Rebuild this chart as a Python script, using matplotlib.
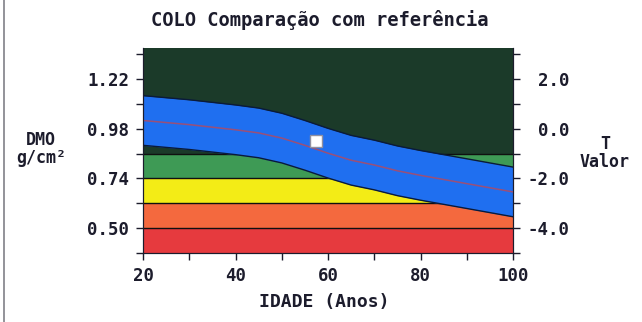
import matplotlib
matplotlib.use("Agg")
import matplotlib.pyplot as plt
import numpy as np

plt.rcParams["font.family"] = ["DejaVu Sans Mono"]
plt.rcParams["font.weight"] = "bold"
plt.rcParams["axes.unicode_minus"] = False

# reference curve for femoral neck BMD (mean, g/cm2) by age
ages = [20, 30, 40, 45, 50, 55, 60, 65, 70, 75, 80, 85, 90, 95, 100]
ref_mean = [1.020, 1.000, 0.975, 0.960, 0.935, 0.900, 0.862, 0.828, 0.805,
            0.777, 0.755, 0.735, 0.715, 0.695, 0.675]
ref_sd = 0.12          # one standard deviation, g/cm2
young_mean = 0.98      # T = 0 level

# T-score zone limits and colours, bottom to top
zone_limits = [-5.0, -4.0, -3.0, -2.0, -1.0, 3.25]
zone_colors = ["#e63a3e", "#f4693e", "#f3ec16", "#3e9a55", "#1b3a29"]

# patient measurement
pat_age = 57.5
pat_bmd = 0.922

left_ticks = [0.50, 0.74, 0.98, 1.22]
left_minor = [0.38, 0.62, 0.86, 1.10, 1.34]
t_ticks = [-4.0, -2.0, 0.0, 2.0]
t_minor = [-5.0, -3.0, -1.0, 1.0, 3.0]
age_ticks = [20, 40, 60, 80, 100]
age_minor = [30, 50, 70, 90]

ink = "#1c1c2c"


def to_bmd(t):
    return young_mean + t * ref_sd


fig = plt.figure(figsize=(6.42, 3.22), dpi=100)
ax = fig.add_axes([143 / 642, 1 - 253 / 322, 370 / 642, 205 / 322])
ylo, yhi = to_bmd(zone_limits[0]), to_bmd(zone_limits[-1])

for lo, hi, c in zip(zone_limits[:-1], zone_limits[1:], zone_colors):
    ax.axhspan(to_bmd(lo), to_bmd(hi), color=c, lw=0, zorder=0)
for t in zone_limits[1:-1]:
    ax.axhline(to_bmd(t), color="#101010", lw=1.0, zorder=1)

mean = np.array(ref_mean)
ax.fill_between(ages, mean - ref_sd, mean + ref_sd, color="#1f6ff0", lw=0, zorder=2)
ax.plot(ages, mean + ref_sd, color="#0a1a3a", lw=1.0, zorder=3)
ax.plot(ages, mean - ref_sd, color="#0a1a3a", lw=1.0, zorder=3)
ax.plot(ages, mean, color="#9a5078", lw=1.1, zorder=3)
ax.plot([pat_age], [pat_bmd], marker="s", ms=8.5, mfc="white", mec="#9090a0",
        mew=1.0, zorder=4)

ax.set_xlim(20, 100)
ax.set_ylim(ylo, yhi)
ax.set_xticks(age_ticks)
ax.set_xticks(age_minor, minor=True)
ax.set_yticks(left_ticks)
ax.set_yticks(left_minor, minor=True)
ax.set_yticklabels([f"{v:.2f}" for v in left_ticks])
ax.tick_params(which="both", direction="out", length=5, width=1, colors=ink,
               labelsize=12.5, pad=5)
for s in ax.spines.values():
    s.set_color(ink)
ax.spines["top"].set_visible(False)

tax = ax.twinx()
tax.set_ylim(zone_limits[0], zone_limits[-1])
tax.set_yticks(t_ticks)
tax.set_yticks(t_minor, minor=True)
tax.set_yticklabels([f"{v:.1f}" for v in t_ticks], ha="right")
tax.tick_params(which="both", direction="out", length=5, width=1, colors=ink,
                labelsize=12.5, pad=36)
for s in tax.spines.values():
    s.set_color(ink)
tax.spines["top"].set_visible(False)

fig.text(320 / 642, 1 - 20 / 322, "COLO Comparação com referência", ha="center",
         va="center", fontsize=13.5, color=ink)
fig.text(41 / 642, 1 - 149 / 322, "DMO\ng/cm²", ha="center", va="center",
         fontsize=12, color=ink, linespacing=0.95)
fig.text(605 / 642, 1 - 153 / 322, "T\nValor", ha="center", va="center",
         fontsize=12, color=ink, linespacing=0.95)
fig.text(324 / 642, 1 - 302 / 322, "IDADE (Anos)", ha="center", va="center",
         fontsize=13, color=ink)

# scanner frame on the left edge
fig.add_artist(plt.Line2D([4 / 642, 4 / 642], [0, 1], color="#808088", lw=1.2))

fig.savefig("out.png", dpi=100)
